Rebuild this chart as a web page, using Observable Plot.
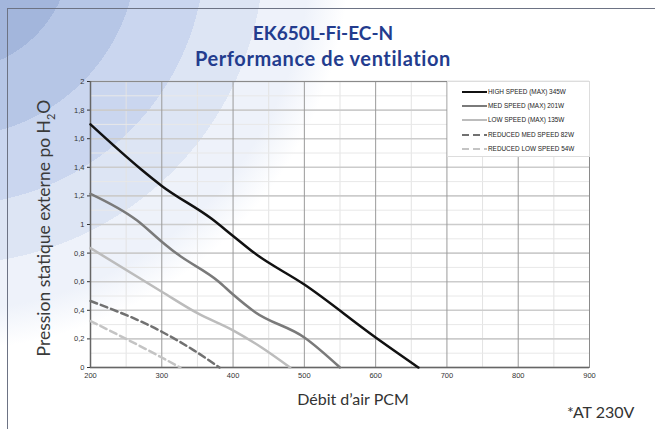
<!DOCTYPE html>
<html><head><meta charset="utf-8">
<script src="https://cdn.jsdelivr.net/npm/d3@7"></script>
<script src="https://cdn.jsdelivr.net/npm/@observablehq/plot@0.6"></script>
<style>
html,body{margin:0;padding:0;}
body{width:655px;height:429px;overflow:hidden;position:relative;
 background: radial-gradient(circle at -50px -50px, #a3b6dc 0px, #a3b6dc 121px, #b6c6e6 121px, #b6c6e6 187px, #cad6ef 187px, #cad6ef 255px, #dde5f4 255px, #dde5f4 314px, #eef2fa 314px, #eef2fa 360px, #ffffff 400px);}
#frame{position:absolute;left:7px;top:8px;width:660px;height:430px;border-top:1.5px solid #6d7384;border-left:1.5px solid #6d7384;}
#title{position:absolute;left:0;width:646px;top:21px;text-align:center;font-family:Lato,sans-serif;font-weight:700;line-height:24px;color:#233c8e;}
#t1{font-size:19px;}
#t2{font-size:20px;letter-spacing:0.6px;}
#chart{position:absolute;left:0;top:0;}
#ylab{position:absolute;left:45px;top:228px;transform:translate(-50%,-50%) rotate(-90deg);white-space:nowrap;font-family:Lato,sans-serif;font-size:17.5px;color:#3a3a3a;}
#ylab sub{font-size:11px;}
#xlab{position:absolute;left:353px;top:398px;transform:translate(-50%,-50%);white-space:nowrap;font-family:Lato,sans-serif;font-size:16px;color:#333;}
#note{position:absolute;left:567px;top:411px;transform:translate(0,-50%);white-space:nowrap;font-family:Lato,sans-serif;font-size:16px;color:#333;}
#legend{position:absolute;left:447px;top:81px;}
</style>
</head><body>
<div id="frame"></div>
<div id="chart"></div>
<div id="title"><span id="t1">EK650L-Fi-EC-N</span><br><span id="t2">Performance de ventilation</span></div>
<div id="ylab">Pression statique externe po H<sub>2</sub>O</div>
<div id="xlab">Débit d’air PCM</div>
<div id="note">*AT 230V</div>
<div id="legend"></div>
<script>
// ---- data ----
const flowHigh = [200, 270, 300, 370, 400, 430, 500, 600, 660];
const pressHigh = [1.70, 1.39, 1.27, 1.04, 0.92, 0.80, 0.58, 0.21, 0];
const flowMed = [200, 265, 300, 320, 380, 400, 430, 500, 550];
const pressMed = [1.215, 1.03, 0.88, 0.80, 0.60, 0.51, 0.39, 0.21, 0];
const flowLow = [200, 300, 350, 400, 440, 480];
const pressLow = [0.835, 0.53, 0.38, 0.26, 0.14, 0];
const flowRedMed = [200, 300, 345, 381];
const pressRedMed = [0.465, 0.25, 0.12, 0];
const flowRedLow = [200, 250, 300, 326];
const pressRedLow = [0.325, 0.20, 0.07, 0];
const seriesNames = ["HIGH SPEED (MAX) 345W", "MED SPEED (MAX) 201W", "LOW SPEED (MAX) 135W", "REDUCED MED SPEED 82W", "REDUCED LOW SPEED 54W"];
const xTicks = [200, 300, 400, 500, 600, 700, 800, 900];
const xMinor = [250, 350, 450, 550, 650, 750, 850];
const yTicks = [0, 0.2, 0.4, 0.6, 0.8, 1, 1.2, 1.4, 1.6, 1.8, 2];
const yMinor = [0.1, 0.3, 0.5, 0.7, 0.9, 1.1, 1.3, 1.5, 1.7, 1.9];

// ---- styles ----
const seriesFlows = [flowHigh, flowMed, flowLow, flowRedMed, flowRedLow];
const seriesPress = [pressHigh, pressMed, pressLow, pressRedMed, pressRedLow];
const styles = [
  {stroke: "#111111", dash: null},
  {stroke: "#7a7a7a", dash: null},
  {stroke: "#bcbcbc", dash: null},
  {stroke: "#717171", dash: "7,4"},
  {stroke: "#c4c4c4", dash: "7,4"}
];

const rows = seriesNames.flatMap((name, i) => seriesFlows[i].map((f, j) => ({series: name, flow: f, pressure: seriesPress[i][j]})));

const lineMarks = seriesNames.map((name, i) => Plot.line(rows.filter(d => d.series === name), {
  x: "flow", y: "pressure", stroke: styles[i].stroke, strokeWidth: 2.5,
  strokeDasharray: styles[i].dash, curve: "monotone-x"
}));

const chart = Plot.plot({
  width: 655, height: 429,
  marginLeft: 90, marginRight: 66, marginTop: 81, marginBottom: 62,
  style: {background: "transparent", fontFamily: "'Liberation Sans', Arial, sans-serif", fontSize: "7.5px", color: "#333", overflow: "visible"},
  x: {domain: [200, 900], ticks: xTicks, tickSize: 0, tickPadding: 5, label: null, tickFormat: d => String(d)},
  y: {domain: [0, 2], ticks: yTicks, tickSize: 3, tickPadding: 3, label: null, tickFormat: d => String(d).replace(".", ",")},
  marks: [
    Plot.ruleX(xMinor, {stroke: "#e3e3e3", strokeWidth: 1}),
    Plot.ruleY(yMinor, {stroke: "#e8e8e8", strokeWidth: 1}),
    Plot.ruleY(yTicks, {stroke: "#cccccc", strokeWidth: 1.6}),
    Plot.ruleX(xTicks, {stroke: "#9a9a9a", strokeWidth: 1}),
    Plot.frame({stroke: "#8a8a8a"}),
    Plot.ruleX([200], {stroke: "#666", strokeWidth: 1.5}),
    Plot.ruleY([0], {stroke: "#666", strokeWidth: 1.5}),
    ...lineMarks
  ]
});
document.getElementById("chart").appendChild(chart);

// ---- legend ----
const lg = d3.select("#legend").append("svg").attr("width", 143).attr("height", 77);
lg.append("rect").attr("x", 0.5).attr("y", 0.5).attr("width", 142).attr("height", 75).attr("fill", "#fff").attr("stroke", "#dddddd");
const rowY = [11, 25, 39, 54, 68];
seriesNames.forEach((name, i) => {
  lg.append("line").attr("x1", 15).attr("x2", 40).attr("y1", rowY[i]).attr("y2", rowY[i])
    .attr("stroke", styles[i].stroke).attr("stroke-width", 2).attr("stroke-dasharray", styles[i].dash);
  lg.append("text").attr("x", 41).attr("y", rowY[i]).attr("dy", "0.35em")
    .attr("font-family", "'Liberation Sans', Arial, sans-serif").attr("font-size", "6.4px").attr("fill", "#222").text(name);
});
</script>
</body></html>
